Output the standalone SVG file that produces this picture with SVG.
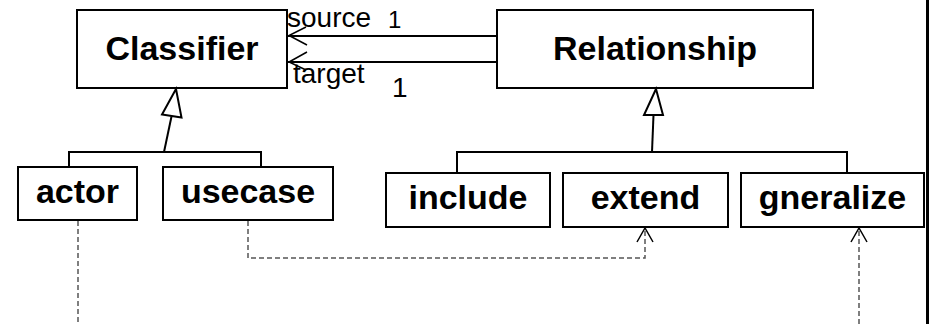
<svg xmlns="http://www.w3.org/2000/svg" width="932" height="324" viewBox="0 0 932 324">
  <style>
    .box { fill: #fff; stroke: #000; stroke-width: 2; }
    .name { font-family: "Liberation Sans", Arial, sans-serif; font-weight: bold; font-size: 34px; fill: #000; text-anchor: middle; }
    .role { font-family: "Liberation Sans", Arial, sans-serif; font-size: 28px; fill: #000; }
    .line { fill: none; stroke: #000; stroke-width: 2; }
    .dash { fill: none; stroke: #555; stroke-width: 1.5; stroke-dasharray: 5 3; }
    .open { fill: none; stroke: #000; stroke-width: 1.5; }
    .tri { fill: #fff; stroke: #000; stroke-width: 2; stroke-linejoin: miter; }
  </style>

  <!-- frame edge on the right -->
  <line x1="927.5" y1="0" x2="927.5" y2="324" stroke="#000" stroke-width="3"/>

  <g id="Classifier">
    <rect class="box" x="77" y="10" width="210" height="78"/>
    <text class="name" x="182" y="60">Classifier</text>
  </g>
  <g id="Relationship">
    <rect class="box" x="497" y="10" width="316" height="78"/>
    <text class="name" x="655" y="60">Relationship</text>
  </g>
  <g id="actor">
    <rect class="box" x="18" y="167" width="119" height="53"/>
    <text class="name" x="77.5" y="203">actor</text>
  </g>
  <g id="usecase">
    <rect class="box" x="163" y="167" width="170" height="53"/>
    <text class="name" x="248" y="203">usecase</text>
  </g>
  <g id="include">
    <rect class="box" x="386" y="173" width="164" height="54"/>
    <text class="name" x="468" y="209">include</text>
  </g>
  <g id="extend">
    <rect class="box" x="563" y="173" width="165" height="54"/>
    <text class="name" x="645.5" y="209">extend</text>
  </g>
  <g id="gneralize">
    <rect class="box" x="741" y="173" width="183" height="54"/>
    <text class="name" x="832.5" y="209">gneralize</text>
  </g>

  <g id="connectors">
    <!-- associations Relationship -> Classifier -->
    <line class="line" x1="497" y1="36" x2="288" y2="36"/>
    <polyline class="open" points="306,27 289,35.5 307,45"/>
    <line class="line" x1="497" y1="62" x2="288" y2="62"/>
    <polyline class="open" points="307,52 289,62 306,70"/>
    <text class="role" x="287" y="27">source</text>
    <text class="role" x="388" y="28" style="font-size:24px">1</text>
    <text class="role" x="392" y="97">1</text>
    <text class="role" x="293" y="83">target</text>

    <!-- generalization: actor, usecase -> Classifier -->
    <polyline class="line" points="69,167 69,152 261,152 261,167"/>
    <line class="line" x1="164" y1="152" x2="171.5" y2="116.5"/>
    <polygon class="tri" points="176,89 162,114.5 181.5,117.5"/>

    <!-- generalization: include, extend, gneralize -> Relationship -->
    <polyline class="line" points="457,173 457,152 847,152 847,173"/>
    <line class="line" x1="652" y1="152" x2="653.5" y2="115"/>
    <polygon class="tri" points="656,89 644,115 663,115"/>

    <!-- dependencies -->
    <line class="dash" x1="78" y1="221" x2="78" y2="324"/>
    <polyline class="dash" points="248,221 248,258 645,258 645,229"/>
    <polyline class="open" points="637,242 645,228 653,242"/>
    <line class="dash" x1="859" y1="324" x2="859" y2="229"/>
    <polyline class="open" points="851,242 859,228 867,242"/>
  </g>
</svg>
